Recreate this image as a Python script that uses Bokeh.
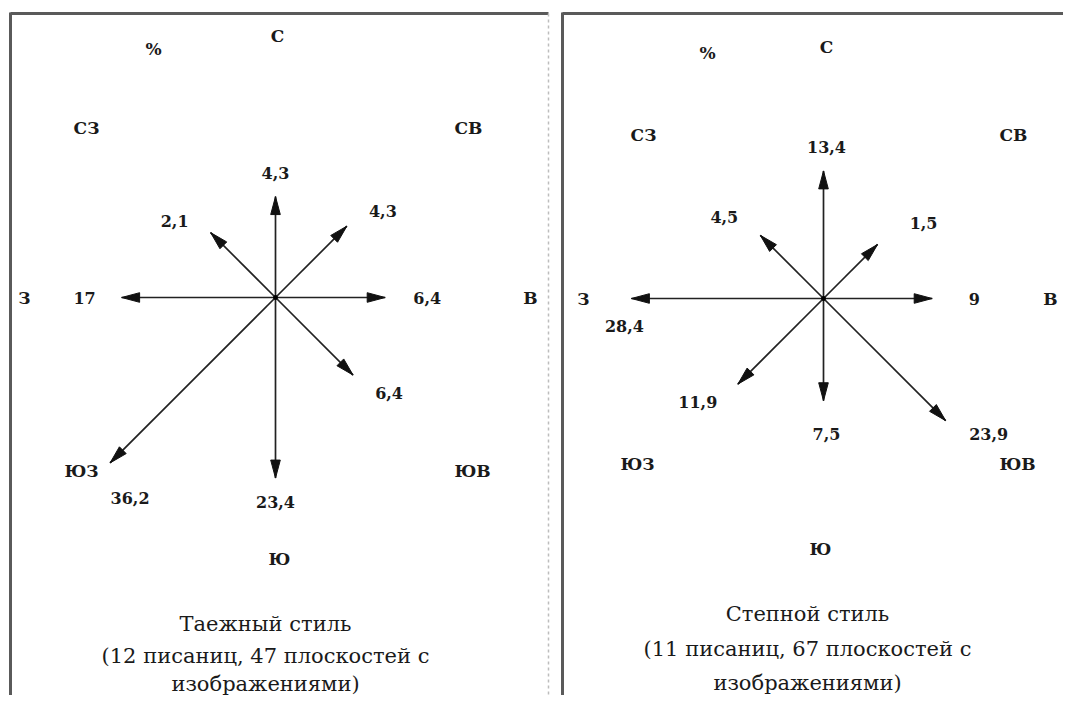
import math
from bokeh.plotting import figure
from bokeh.models import Range1d
from bokeh.embed import file_html
from bokeh.resources import INLINE
from bokeh.core.properties import value

# ---------------- data ----------------
directions = ["С", "СВ", "В", "ЮВ", "Ю", "ЮЗ", "З", "СЗ"]
bearings = [0, 45, 90, 135, 180, 225, 270, 315]
taiga_values = [4.3, 4.3, 6.4, 6.4, 23.4, 36.2, 17, 2.1]
steppe_values = [13.4, 1.5, 9, 23.9, 7.5, 11.9, 28.4, 4.5]
taiga_caption = ["Таежный стиль", "(12 писаниц, 47 плоскостей с", "изображениями)"]
steppe_caption = ["Степной стиль", "(11 писаниц, 67 плоскостей с", "изображениями)"]
unit_label = "%"

# ---------------- layout ----------------
W, H = 1063, 695
FONT = value("DejaVu Serif")

panels = [
    dict(values=taiga_values, caption=taiga_caption,
         cx=275, cy=297, r0=83, k=4.17,
         dir_off=[(2, -262), (193, -170), (255, 0), (197, 173),
                  (4, 261), (-194, 173), (-251, 0), (-189, -170)],
         val_off=[(0, -24), (36, -15), (42, 0), (36, 18),
                  (0, 24), (20, 35), (-37, 0), (-36, -12)],
         pct=(-122, -249), cap_x=265, cap_y=[623, 655, 683]),
    dict(values=steppe_values, caption=steppe_caption,
         cx=823, cy=298, r0=70, k=4.3,
         dir_off=[(3, -252), (190, -164), (227, 0), (194, 165),
                  (-3, 250), (-186, 165), (-240, 0), (-180, -164)],
         val_off=[(3, -24), (46, -21), (42, 0), (43, 13),
                  (3, 33), (-40, 18), (-7, 27), (-36, -18)],
         pct=(-116, -246), cap_x=807, cap_y=[613, 648, 682]),
]

p = figure(width=W, height=H, x_range=Range1d(0, W), y_range=Range1d(H, 0),
           x_axis_type=None, y_axis_type=None, output_backend="svg",
           toolbar_location=None, min_border=0)
p.grid.visible = False
p.outline_line_color = None
p.background_fill_color = "white"
p.border_fill_color = "white"

# panel frames
p.line([10, 10], [720, 12], line_color="#5a5a5a", line_width=3)
p.line([10, 548], [13, 13], line_color="#5a5a5a", line_width=3)
p.line([548, 548], [13, 720], line_color="#bdbdbd", line_width=1.5, line_dash="3 3")
p.line([562, 562], [720, 12], line_color="#5a5a5a", line_width=3)
p.line([562, 1080], [13, 13], line_color="#5a5a5a", line_width=3)

HEAD_L, HEAD_W = 18, 4.8

for pn in panels:
    cx, cy = pn["cx"], pn["cy"]
    x0, y0, x1, y1 = [], [], [], []
    hx, hy = [], []
    vx, vy, vt = [], [], []
    dx_, dy_ = [], []
    for i, (b, v) in enumerate(zip(bearings, pn["values"])):
        ux, uy = math.sin(math.radians(b)), -math.cos(math.radians(b))
        r = pn["r0"] + pn["k"] * v
        tx, ty = cx + r * ux, cy + r * uy
        x0.append(cx); y0.append(cy); x1.append(tx); y1.append(ty)
        bx, by = tx - HEAD_L * ux, ty - HEAD_L * uy
        nx, ny = -uy, ux
        hx.append([tx, bx + HEAD_W * nx, bx - HEAD_W * nx])
        hy.append([ty, by + HEAD_W * ny, by - HEAD_W * ny])
        ox, oy = pn["val_off"][i]
        vx.append(tx + ox); vy.append(ty + oy)
        vt.append(f"{v:g}".replace(".", ","))
        dox, doy = pn["dir_off"][i]
        dx_.append(cx + dox); dy_.append(cy + doy)

    p.segment(x0=x0, y0=y0, x1=x1, y1=y1, line_color="#222222", line_width=1.7)
    p.patches(xs=hx, ys=hy, fill_color="#111111", line_color="#111111", line_width=1)
    p.scatter([cx], [cy], size=4, color="#000000")

    p.text(x=vx, y=vy, text=vt, text_font=FONT, text_font_style="bold",
           text_font_size="16px", text_align="center", text_baseline="middle",
           text_color="#1a1a1a")
    p.text(x=dx_, y=dy_, text=directions, text_font=FONT, text_font_style="bold",
           text_font_size="17px", text_align="center", text_baseline="middle",
           text_color="#1a1a1a")
    p.text(x=[cx + pn["pct"][0]], y=[cy + pn["pct"][1]], text=[unit_label],
           text_font=FONT, text_font_style="bold", text_font_size="17px",
           text_align="center", text_baseline="middle", text_color="#1a1a1a")
    p.text(x=[pn["cap_x"]] * 3, y=pn["cap_y"], text=pn["caption"], text_font=FONT,
           text_font_size="21px", text_align="center", text_baseline="middle",
           text_color="#1a1a1a")

open("out.html", "w").write(file_html(p, INLINE))
